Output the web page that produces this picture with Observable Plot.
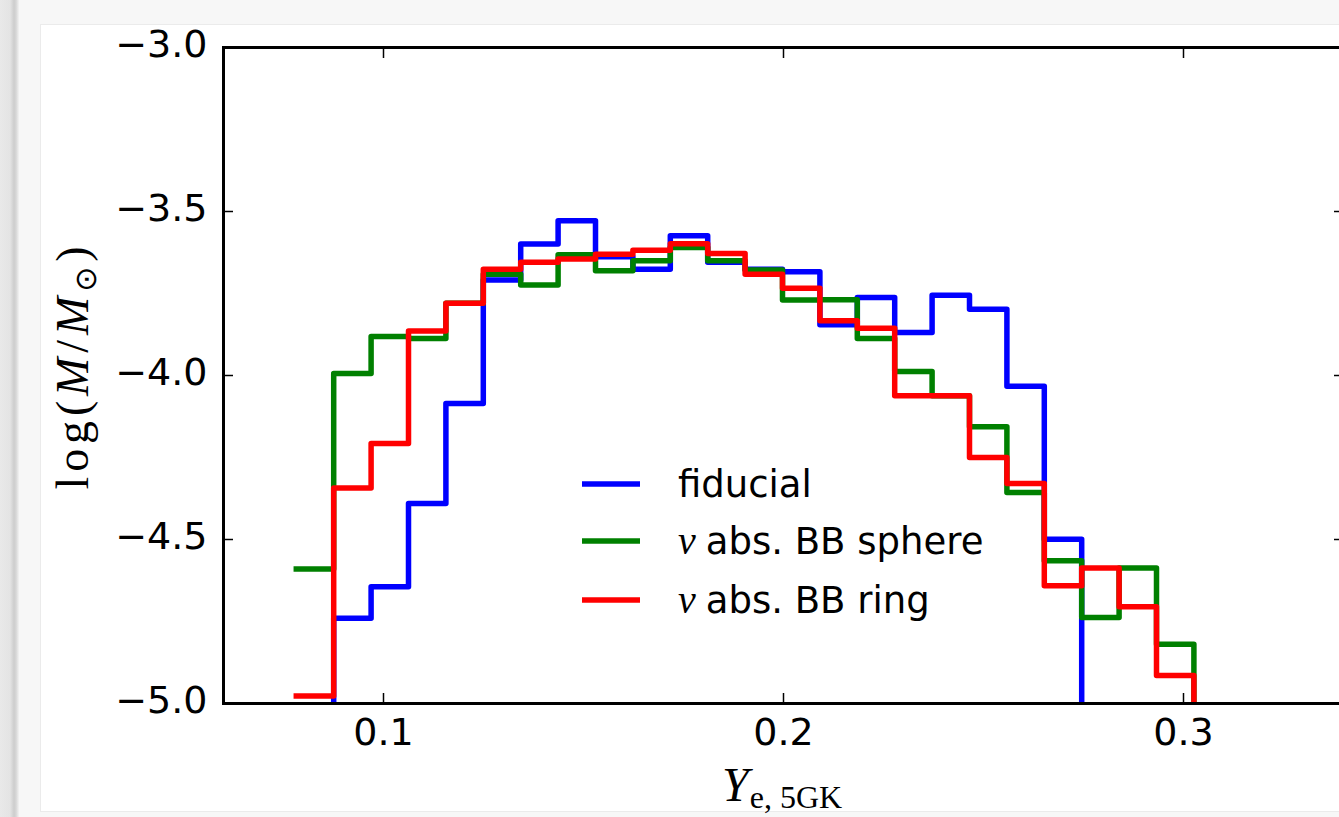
<!DOCTYPE html>
<html>
<head>
<meta charset="utf-8">
<script src="https://cdn.jsdelivr.net/npm/d3@7"></script>
<script src="https://cdn.jsdelivr.net/npm/@observablehq/plot@0.6"></script>
<style>
  html, body { margin: 0; padding: 0; width: 1339px; height: 817px; overflow: hidden; background: #f7f7f7; }
  #strip { position: absolute; left: 0; top: 0; width: 19px; height: 817px;
    background: linear-gradient(to right, #e9e9e9 0px, #e4e4e4 10px, #cdcdcd 14px, #d6d6d6 16px, #f3f3f3 19px); }
  #fig { position: absolute; left: 40px; top: 24px; width: 1320px; height: 786px; background: #fff; border: 1px solid #ebebeb; }
  #chart { position: absolute; left: 0; top: 0; }
  #chart svg { max-width: none !important; background: transparent; overflow: visible; }
</style>
</head>
<body>
<div id="strip"></div>
<div id="fig"></div>
<div id="chart"></div>
<script>
// ---- data ----
const binEdges = [0.0782, 0.08755, 0.0969, 0.10625, 0.1156, 0.12495, 0.1343, 0.14365, 0.153, 0.16235,
  0.1717, 0.18105, 0.1904, 0.19975, 0.2091, 0.21845, 0.2278, 0.23715, 0.2465, 0.25585,
  0.2652, 0.27455, 0.2839, 0.29325, 0.3026];
const fiducial = [null, -4.740, -4.644, -4.390, -4.085, -3.709, -3.599, -3.528, -3.638, -3.676,
  -3.574, -3.655, -3.676, -3.684, -3.845, -3.762, -3.869, -3.755, -3.798, -4.033,
  -4.499, null, null, null];
const bbSphere = [-4.590, -3.994, -3.881, -3.887, -3.780, -3.691, -3.724, -3.632, -3.681, -3.650,
  -3.610, -3.650, -3.678, -3.770, -3.769, -3.887, -3.988, -4.062, -4.156, -4.357,
  -4.565, -4.738, -4.587, -4.819];
const bbRing = [-4.977, -4.343, -4.207, -3.864, -3.780, -3.676, -3.655, -3.645, -3.630, -3.618,
  -3.598, -3.628, -3.691, -3.734, -3.833, -3.856, -4.062, -4.062, -4.250, -4.329,
  -4.641, -4.587, -4.705, -4.915];
const seriesNames = ["fiducial", "abs. BB sphere", "abs. BB ring"];
const seriesPrefix = ["", "ν", "ν"];
const seriesColors = ["#0000ff", "#008000", "#ff0000"];
const xTicks = [0.1, 0.2, 0.3];
const xTickLabels = ["0.1", "0.2", "0.3"];
const yTicks = [-3.0, -3.5, -4.0, -4.5, -5.0];
const yTickLabels = ["−3.0", "−3.5", "−4.0", "−4.5", "−5.0"];

// ---- build step outlines ----
const yDomain = [-5, -3];
const below = -6; // off-frame value for empty bins (clipped)
function stepPoints(values) {
  const pts = [];
  values.forEach((v, i) => {
    const y = v == null ? below : v;
    pts.push({x: binEdges[i], y});
    pts.push({x: binEdges[i + 1], y});
  });
  pts.push({x: binEdges[binEdges.length - 1], y: below});
  return pts;
}
const allSeries = [fiducial, bbSphere, bbRing];

const plot = Plot.plot({
  width: 1400,
  height: 817,
  marginLeft: 223,
  marginRight: 57,
  marginTop: 47,
  marginBottom: 114,
  style: {fontFamily: "DejaVu Sans", background: "transparent", overflow: "visible"},
  x: {domain: [0.06, 0.34]},
  y: {domain: yDomain},
  marks: [
    ...allSeries.map((s, k) => Plot.line(stepPoints(s), {
      x: "x", y: "y", stroke: seriesColors[k], strokeWidth: 5.5,
      strokeLinejoin: "round", strokeLinecap: "square", clip: true
    })),
    Plot.axisX({anchor: "bottom", ticks: xTicks, tickSize: -10, strokeWidth: 1.5, tickFormat: () => "", label: null}),
    Plot.axisX({anchor: "top", ticks: xTicks, tickSize: -10, strokeWidth: 1.5, tickFormat: () => "", label: null}),
    Plot.axisY({anchor: "left", ticks: yTicks, tickSize: -10, strokeWidth: 1.5, tickFormat: () => "", label: null}),
    Plot.axisY({anchor: "right", ticks: yTicks, tickSize: -10, strokeWidth: 1.5, tickFormat: () => "", label: null}),
    Plot.axisX({anchor: "bottom", ticks: xTicks, tickSize: 0, tickPadding: 15, fontSize: 38,
      tickFormat: d => xTickLabels[xTicks.indexOf(d)], label: null, fill: "black"}),
    Plot.axisY({anchor: "left", ticks: yTicks, tickSize: 0, tickPadding: 16, fontSize: 38, dy: -3,
      tickFormat: d => yTickLabels[yTicks.indexOf(d)], label: null, fill: "black"}),
    Plot.frame({stroke: "black", strokeWidth: 3})
  ]
});
document.getElementById("chart").appendChild(plot);

// ---- axis labels (math-style) ----
const svg = d3.select(plot);
const serif = "'Liberation Serif', 'DejaVu Serif', serif";
const yl = svg.append("text")
  .attr("transform", "translate(88,368) rotate(-90)")
  .attr("text-anchor", "middle")
  .attr("font-family", serif).attr("font-size", 46).attr("fill", "black")
  .attr("textLength", 243).attr("lengthAdjust", "spacing");
yl.append("tspan").text("log(");
yl.append("tspan").attr("font-style", "italic").text("M");
yl.append("tspan").text("/");
yl.append("tspan").attr("font-style", "italic").text("M");
yl.append("tspan").attr("font-size", 30).attr("dy", 8).attr("font-family", "DejaVu Sans").text("⊙");
yl.append("tspan").attr("dy", -8).text(")");

const xl = svg.append("text")
  .attr("x", 722).attr("y", 801)
  .attr("text-anchor", "start")
  .attr("font-family", serif).attr("font-size", 48).attr("fill", "black");
xl.append("tspan").attr("font-style", "italic").text("Y");
xl.append("tspan").attr("font-size", 32).attr("dy", 7).attr("dx", 1).text("e, 5GK");

// ---- legend ----
const legLineY = [484, 541, 600];
const legend = svg.append("g").attr("text-anchor", "start");
seriesNames.forEach((name, k) => {
  legend.append("line")
    .attr("x1", 582).attr("x2", 640).attr("y1", legLineY[k]).attr("y2", legLineY[k])
    .attr("stroke", seriesColors[k]).attr("stroke-width", 5.5);
  const t = legend.append("text")
    .attr("x", 678).attr("y", legLineY[k] + 12.5)
    .attr("text-anchor", "start")
    .attr("font-family", "DejaVu Sans").attr("font-size", 37).attr("fill", "black");
  if (seriesPrefix[k]) {
    t.append("tspan").attr("font-family", serif).attr("font-style", "italic").attr("font-size", 40).text(seriesPrefix[k]);
    t.append("tspan").attr("dx", 10).text(name);
  } else {
    t.append("tspan").text(name);
  }
});
</script>
</body>
</html>
